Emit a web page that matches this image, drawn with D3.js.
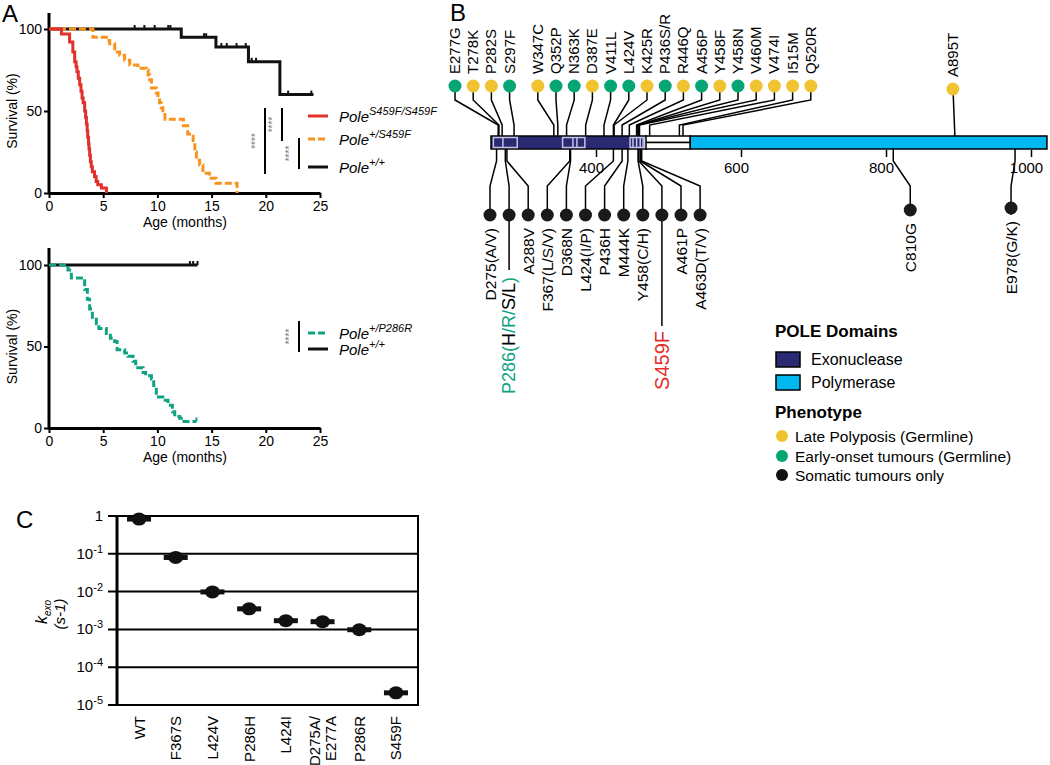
<!DOCTYPE html>
<html>
<head>
<meta charset="utf-8">
<title>POLE exonuclease mutations</title>
<style>
  body { margin:0; background:#fff; }
  svg text { font-family: Arial, "Liberation Sans", sans-serif; fill:#000; }
</style>
</head>
<body>
<div id="container"></div>
<script src="https://d3js.org/d3.v7.min.js"></script>
<script>
// ---------------- data ----------------
// Panel A: Kaplan-Meier steps (months, survival %)
const months = [0, 5, 10, 15, 20, 25];
const survTicks = [0, 50, 100];

const homT = [0,1.15,1.9,2.2,2.37,2.5,2.58,2.7,2.83,2.95,3.05,3.15,3.29,3.38,3.45,3.52,3.57,3.65,3.69,3.75,3.82,3.9,4.0,4.2,4.35,4.5,4.83,5.3];
const homS = [100,97,92,86,80,77,74,70,66,62,58,55,50,46,42,38,34,30,27,23,19,16,13,10,7,5,3,0];

const hetT = [0,4.06,5.29,5.6,6.06,6.3,6.52,6.98,7.45,8.2,8.98,9.15,9.29,9.45,9.9,10.05,10.2,10.35,10.5,10.7,12.4,12.8,13.3,13.45,13.6,13.9,14.2,14.8,15.4,17.35];
const hetS = [100,95,93,91,88,86,84,81,78,76,75,72,69,64,61,58,55,52,49,45,41,36,32,25,20,17,12,9,6,0];

const wtT = [0, 12.2, 15.4, 18.4, 21.3];
const wtS = [100, 95, 89, 80, 60];
const wtEnd = 24.4;
const wtCens = [7.9,8.8,9.75,11.0,11.2,14.3,14.5,15.9,16.4,17.3,18.15,18.7,19.1,22.06,24.2];

const p286T = [0,1.75,2.06,3.29,3.54,3.75,4.0,4.37,4.6,5.29,5.66,6.06,6.28,6.98,7.29,7.75,8.0,8.68,8.92,9.45,9.66,9.9,10.5,10.98,11.38,11.6,12.06,12.2];
const p286S = [100,97,92,85,79,73,68,64,61,58,55,53,48,46,44,41,37,34,32,30,26,19,17,14,10,7,6,4];
const p286End = 13.6;
const p286Cens = [13.6];

const wt2T = [0];
const wt2S = [100];
const wt2End = 13.7;
const wt2Cens = [13.0, 13.3, 13.7];

// Panel B: POLE mutations
const topMuts  = ["E277G","T278K","P282S","S297F","W347C","Q352P","N363K","D387E","V411L","L424V","K425R","P436S/R","R446Q","A456P","Y458F","Y458N","V460M","V474I","I515M","Q520R","A895T"];
const topPos   = [277,278,282,297,347,352,363,387,411,424,425,436,446,456,458,458,460,474,515,520,895];
const topPheno = ["E","L","L","E","L","E","E","L","E","E","L","E","L","E","L","E","L","L","L","L","L"];

const botMuts = ["D275(A/V)","P286(H/R/S/L)","A288V","F367(L/S/V)","D368N","L424(I/P)","P436H","M444K","Y458(C/H)","S459F","A461P","A463D(T/V)","C810G","E978(G/K)"];
const botPos  = [275,286,288,367,368,424,436,444,458,459,461,463,810,978];

const exoDomain = [268, 469];
const polDomain = [530, 1022];
const motifs = [[271, 301, [283]], [358, 386, [371, 376]], [447, 467, [451, 456, 461, 465]]];
const aaTicks = [400, 600, 800, 1000];

// Panel C: kexo (s-1)
const kexoLabels = ["WT","F367S","L424V","P286H","L424I","D275A/E277A","P286R","S459F"];
const kexo = [0.83, 0.08, 0.0098, 0.0035, 0.0017, 0.0016, 0.00098, 0.000021];
const kexoTicks = [1, 1e-1, 1e-2, 1e-3, 1e-4, 1e-5];

// ---------------- colours ----------------
const RED = "#e2302a", ORANGE = "#f7941d", TEAL = "#0fa382";
const YELLOW = "#f0c330", GREEN = "#06a574", NAVY = "#2a2a72", CYAN = "#00b7ef";

const svg = d3.select("#container").append("svg")
  .attr("width", 1050).attr("height", 765);
svg.append("rect").attr("width", 1050).attr("height", 765).attr("fill", "#fff");

// panel letters
[["A", 2, 22], ["B", 450, 21], ["C", 16, 528]].forEach(function(p) {
  svg.append("text").attr("x", p[1]).attr("y", p[2])
    .style("font-size", "24px").text(p[0]);
});

// ---------------- Panel A ----------------
const xAge = d3.scaleLinear().domain([0, 25]).range([49, 320]);

function stepVal(T, S, t) {
  let v = S[0];
  for (let i = 0; i < T.length; i++) if (T[i] <= t) v = S[i];
  return v;
}

function survPanel(cfg) {
  const y = d3.scaleLinear().domain([0, 100]).range([cfg.y0, cfg.y100]);
  const g = svg.append("g");

  const xa = g.append("g").attr("transform", `translate(0,${cfg.y0})`)
    .call(d3.axisBottom(xAge).tickValues(months).tickSize(5).tickSizeOuter(0).tickPadding(3));
  xa.select(".domain").attr("stroke-width", 3);
  xa.selectAll(".tick line").attr("stroke-width", 2);
  xa.selectAll("text").style("font-size", "14px");

  const ya = g.append("g").attr("transform", "translate(49,0)")
    .call(d3.axisLeft(y).tickValues(survTicks).tickSize(5).tickPadding(2));
  ya.select(".domain").remove();
  ya.selectAll(".tick line").attr("stroke-width", 2);
  ya.selectAll("text").style("font-size", "14px");
  g.append("line").attr("x1", 49).attr("x2", 49)
    .attr("y1", cfg.yTop).attr("y2", cfg.y0 + 1.5)
    .attr("stroke", "#000").attr("stroke-width", 3);

  g.append("text").attr("x", 185).attr("y", cfg.y0 + 34)
    .attr("text-anchor", "middle").style("font-size", "14px").text("Age (months)");
  g.append("text").attr("transform", `translate(17,${(cfg.y0 + cfg.y100) / 2}) rotate(-90)`)
    .attr("text-anchor", "middle").style("font-size", "14px").text("Survival (%)");

  const line = d3.line().x(d => xAge(d[0])).y(d => y(d[1])).curve(d3.curveStepAfter);
  cfg.curves.forEach(function(c) {
    const pts = c.T.map((t, i) => [t, c.S[i]]);
    if (c.end !== undefined) pts.push([c.end, c.S[c.S.length - 1]]);
    g.append("path").attr("d", line(pts)).attr("fill", "none")
      .attr("stroke", c.color).attr("stroke-width", 3)
      .attr("stroke-dasharray", c.dash ? "7,3" : null);
    (c.cens || []).forEach(function(t) {
      const v = stepVal(c.T, c.S, t);
      g.append("line").attr("x1", xAge(t)).attr("x2", xAge(t))
        .attr("y1", y(v)).attr("y2", y(v) - 4)
        .attr("stroke", c.color).attr("stroke-width", 2);
    });
  });

  // legend
  cfg.legend.forEach(function(l) {
    g.append("line").attr("x1", 308).attr("x2", 328).attr("y1", l.y).attr("y2", l.y)
      .attr("stroke", l.color).attr("stroke-width", 3)
      .attr("stroke-dasharray", l.dash ? "7,3" : null);
    const t = g.append("text").attr("x", 339).attr("y", l.y + 6)
      .style("font-size", "15px").style("font-style", "italic");
    t.append("tspan").text("Pole");
    t.append("tspan").attr("dy", -7).style("font-size", "11px").text(l.sup);
  });
  cfg.sig.forEach(function(s) {
    g.append("line").attr("x1", s[0]).attr("x2", s[0]).attr("y1", s[1]).attr("y2", s[2])
      .attr("stroke", "#000").attr("stroke-width", 2);
    g.append("text").attr("transform", `translate(${s[0] - 6},${(s[1] + s[2]) / 2}) rotate(-90)`)
      .attr("text-anchor", "middle").style("font-size", "10px").style("fill", "#777")
      .text("****");
  });
}

survPanel({
  y0: 193, y100: 29, yTop: 13,
  curves: [
    { T: wtT, S: wtS, end: wtEnd, cens: wtCens, color: "#111" },
    { T: hetT, S: hetS, color: ORANGE, dash: true },
    { T: homT, S: homS, color: RED }
  ],
  legend: [
    { y: 116, color: RED, sup: "S459F/S459F" },
    { y: 139, color: ORANGE, dash: true, sup: "+/S459F" },
    { y: 167, color: "#111", sup: "+/+" }
  ],
  sig: [[265, 108, 174], [282, 108, 141], [299, 138, 169]]
});

survPanel({
  y0: 428, y100: 265, yTop: 248,
  curves: [
    { T: wt2T, S: wt2S, end: wt2End, cens: wt2Cens, color: "#111" },
    { T: p286T, S: p286S, end: p286End, cens: p286Cens, color: TEAL, dash: true }
  ],
  legend: [
    { y: 333, color: TEAL, dash: true, sup: "+/P286R" },
    { y: 349, color: "#111", sup: "+/+" }
  ],
  sig: [[299, 321, 352]]
});

// ---------------- Panel B ----------------
const aa = d3.scaleLinear().domain([268, 400, 1000]).range([491, 596, 1031]);
const barTop = 136, barBot = 149;
const gB = svg.append("g");

// connectors (drawn first)
const topDotY = 86, botDotY = 215, r = 6.5;
const topX = topMuts.map((m, i) => i === topMuts.length - 1 ? aa(topPos[i]) - 2 : 455 + i * 18.2 + (i >= 4 ? 10 : 0));
const botX = botMuts.map((m, i) => i < 12 ? 490 + i * 19.1 : aa(botPos[i]) + (i === 12 ? 17 : -4));

const path = d3.line();
topMuts.forEach(function(m, i) {
  const ax = aa(topPos[i]);
  const pts = i === topMuts.length - 1
    ? [[topX[i], topDotY], [ax, barTop]]
    : [[topX[i], topDotY], [topX[i], 100], [ax, 125], [ax, barTop]];
  gB.append("path").attr("d", path(pts)).attr("fill", "none")
    .attr("stroke", "#000").attr("stroke-width", 1.5);
});
botMuts.forEach(function(m, i) {
  const ax = aa(botPos[i]);
  let end = botDotY;
  if (m.startsWith("P286")) end = 270;
  if (m === "S459F") end = 326;
  const pts = [[ax, barBot], [ax, 161], [botX[i], 186], [botX[i], end]];
  gB.append("path").attr("d", path(pts)).attr("fill", "none")
    .attr("stroke", "#000").attr("stroke-width", 1.5);
});

// protein bar
gB.append("rect").attr("x", aa(exoDomain[0])).attr("y", barTop)
  .attr("width", aa(exoDomain[1]) - aa(exoDomain[0])).attr("height", barBot - barTop)
  .attr("fill", NAVY).attr("stroke", "#000").attr("stroke-width", 1.5);
[[barTop, (barTop + barBot) / 2], [(barTop + barBot) / 2, barBot]].forEach(function(b) {
  gB.append("rect").attr("x", aa(exoDomain[1])).attr("y", b[0])
    .attr("width", aa(polDomain[0]) - aa(exoDomain[1])).attr("height", b[1] - b[0])
    .attr("fill", "#fff").attr("stroke", "#000").attr("stroke-width", 1.5);
});
gB.append("rect").attr("x", aa(polDomain[0])).attr("y", barTop)
  .attr("width", aa(polDomain[1]) - aa(polDomain[0])).attr("height", barBot - barTop)
  .attr("fill", CYAN).attr("stroke", "#000").attr("stroke-width", 1.5);
motifs.forEach(function(mo) {
  gB.append("rect").attr("x", aa(mo[0])).attr("y", barTop + 1.5)
    .attr("width", aa(mo[1]) - aa(mo[0])).attr("height", barBot - barTop - 3)
    .attr("fill", "none").attr("stroke", "#c4c4e4").attr("stroke-width", 1.5);
  mo[2].forEach(function(d) {
    gB.append("line").attr("x1", aa(d)).attr("x2", aa(d))
      .attr("y1", barTop + 1.5).attr("y2", barBot - 1.5)
      .attr("stroke", "#c4c4e4").attr("stroke-width", 1.5);
  });
});

const aAx = gB.append("g").attr("transform", `translate(0,${barBot + 1})`)
  .call(d3.axisBottom(aa).tickValues(aaTicks).tickFormat(d3.format("d")).tickSize(7).tickPadding(5));
aAx.select(".domain").remove();
aAx.selectAll(".tick line").attr("stroke-width", 1.5);
aAx.selectAll("text").style("font-size", "15px").attr("dx", -5);

// dots + labels
topMuts.forEach(function(m, i) {
  const yy = i === topMuts.length - 1 ? topDotY + 3 : topDotY;
  gB.append("circle").attr("cx", topX[i]).attr("cy", yy).attr("r", r)
    .attr("fill", topPheno[i] === "E" ? GREEN : YELLOW);
  gB.append("text").attr("transform", `translate(${topX[i] + 5},${yy - 12}) rotate(-90)`)
    .style("font-size", "15px").text(m);
});
botMuts.forEach(function(m, i) {
  const yy = i === 12 ? 210 : i === 13 ? 208 : botDotY;
  gB.append("circle").attr("cx", botX[i]).attr("cy", yy).attr("r", r).attr("fill", "#1a1a1a");
  if (m.startsWith("P286")) {
    const t = gB.append("text").attr("transform", `translate(${botX[i] + 6},277) rotate(-90)`)
      .attr("text-anchor", "end").style("font-size", "18px");
    [["P286(", TEAL], ["H", "#000"], ["/R/", TEAL], ["S/L", "#000"], [")", TEAL]].forEach(function(p) {
      t.append("tspan").style("fill", p[1]).text(p[0]);
    });
  } else if (m === "S459F") {
    gB.append("text").attr("transform", `translate(${botX[i] + 7},331) rotate(-90)`)
      .attr("text-anchor", "end").style("font-size", "20px").style("fill", RED).text(m);
  } else {
    gB.append("text").attr("transform", `translate(${botX[i] + 5.5},${yy + 13}) rotate(-90)`)
      .attr("text-anchor", "end").style("font-size", "15.5px").text(m);
  }
});

// legend B
const lg = svg.append("g");
lg.append("text").attr("x", 775).attr("y", 337).style("font-size", "17px")
  .style("font-weight", "bold").text("POLE Domains");
[["Exonuclease", NAVY, 352], ["Polymerase", CYAN, 375]].forEach(function(d) {
  lg.append("rect").attr("x", 776).attr("y", d[2]).attr("width", 24).attr("height", 15)
    .attr("fill", d[1]).attr("stroke", "#000").attr("stroke-width", 1.5);
  lg.append("text").attr("x", 811).attr("y", d[2] + 13).style("font-size", "16px").text(d[0]);
});
lg.append("text").attr("x", 775).attr("y", 418).style("font-size", "17px")
  .style("font-weight", "bold").text("Phenotype");
[["Late Polyposis (Germline)", YELLOW, 436], ["Early-onset tumours (Germline)", GREEN, 456], ["Somatic tumours only", "#111", 475]]
  .forEach(function(d) {
    lg.append("circle").attr("cx", 782).attr("cy", d[2]).attr("r", 6).attr("fill", d[1]);
    lg.append("text").attr("x", 795).attr("y", d[2] + 5.5).style("font-size", "15.5px").text(d[0]);
  });

// ---------------- Panel C ----------------
const gC = svg.append("g");
const xC = d3.scalePoint().domain(kexoLabels).range([117, 418]).padding(0.6);
const yC = d3.scaleLog().domain([1e-5, 1]).range([705, 516]);

kexoTicks.forEach(function(t) {
  gC.append("line").attr("x1", 108).attr("x2", 418).attr("y1", yC(t)).attr("y2", yC(t))
    .attr("stroke", "#000").attr("stroke-width", 2);
  const e = Math.round(Math.log10(t));
  const tx = gC.append("text").attr("x", 103).attr("y", yC(t) + 5)
    .attr("text-anchor", "end").style("font-size", "15px");
  if (e === 0) tx.text("1");
  else {
    tx.append("tspan").text("10");
    tx.append("tspan").attr("dy", -6).style("font-size", "11px").text(e);
  }
});
gC.append("line").attr("x1", 117).attr("x2", 117).attr("y1", 515).attr("y2", 706)
  .attr("stroke", "#000").attr("stroke-width", 3);
gC.append("line").attr("x1", 418).attr("x2", 418).attr("y1", 515).attr("y2", 706)
  .attr("stroke", "#000").attr("stroke-width", 2);

kexoLabels.forEach(function(k, i) {
  const cx = xC(k), cy = yC(kexo[i]);
  gC.append("rect").attr("x", cx - 12).attr("y", cy - 2.5).attr("width", 24).attr("height", 5)
    .attr("fill", "#111");
  gC.append("ellipse").attr("cx", cx).attr("cy", cy).attr("rx", 7.5).attr("ry", 6.5).attr("fill", "#111");
  const lines = k === "D275A/E277A" ? ["D275A/", "E277A"] : [k];
  lines.forEach(function(s, j) {
    const off = lines.length > 1 ? (j === 0 ? -8 : 8) : 0;
    gC.append("text").attr("transform", `translate(${cx + 5.5 + off},716) rotate(-90)`)
      .attr("text-anchor", "end").style("font-size", "15px").text(s);
  });
});

const yl = gC.append("text").attr("transform", "translate(47,612) rotate(-90)")
  .attr("text-anchor", "middle").style("font-style", "italic").style("font-size", "16px");
yl.append("tspan").text("k");
yl.append("tspan").attr("dy", 4).style("font-size", "10px").text("exo");
gC.append("text").attr("transform", "translate(65,614) rotate(-90)")
  .attr("text-anchor", "middle").style("font-style", "italic").style("font-size", "15px").text("(s-1)");
</script>
</body>
</html>
